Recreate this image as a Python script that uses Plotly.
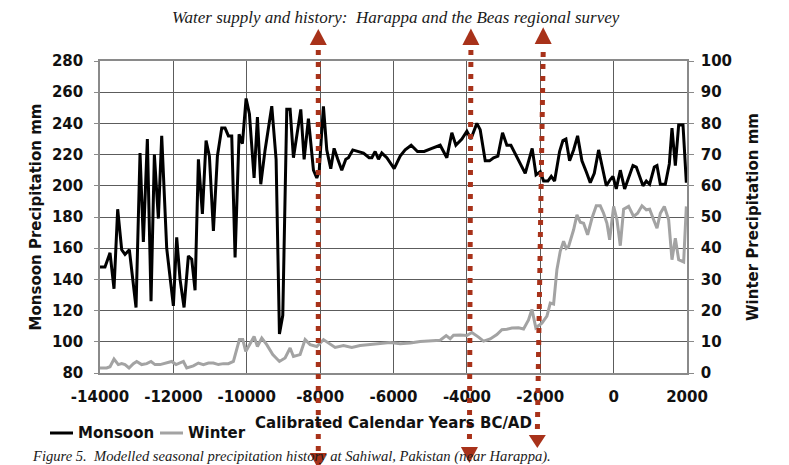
import plotly.graph_objects as go

# ---------------- data ----------------
monsoon_years = [
    -14000, -13864, -13727, -13618, -13518, -13409, -13318, -13200, -13018, -12909,
    -12818, -12709, -12609, -12518, -12409, -12318, -12182, -12000, -11909, -11818,
    -11709, -11591, -11500, -11409, -11318, -11209, -11109, -11018, -10909, -10800,
    -10682, -10591, -10500, -10409, -10318, -10209, -10118, -10018, -9927, -9800,
    -9709, -9618, -9500, -9318, -9200, -9109, -9018, -8909, -8818, -8727,
    -8527, -8436, -8319, -8182, -8091, -8027, -7910, -7819, -7710, -7619,
    -7519, -7410, -7300, -7228, -7110, -6955, -6819, -6664, -6590, -6500,
    -6410, -6319, -6182, -5982, -5818, -5682, -5518, -5346, -5164, -4955,
    -4728, -4546, -4410, -4300, -4137, -4000, -3890, -3728, -3637, -3500,
    -3383, -3273, -3155, -3028, -2910, -2800, -2655, -2527, -2410, -2220,
    -2115, -2000, -1909, -1791, -1700, -1609, -1473, -1382, -1300, -1200,
    -1091, -982, -864, -746, -636, -527, -409, -318, -200, -91,
    -18, 72, 182, 300, 409, 527, 618, 709, 800, 891,
    982, 1109, 1182, 1273, 1409, 1518, 1591, 1682, 1773, 1891,
    1982,
]
monsoon_mm = [
    148, 148, 157, 134, 185, 159, 156, 159, 122, 221,
    164, 230, 126, 220, 179, 232, 160, 123, 167, 140,
    122, 155, 153, 133, 217, 182, 229, 219, 171, 219,
    237, 237, 232, 232, 154, 233, 227, 256, 246, 205,
    244, 201, 223, 251, 217, 105, 117, 249, 249, 218,
    249, 217, 243, 210, 205, 209, 251, 223, 211, 224,
    217, 210, 217, 218, 223, 222, 221, 218, 218, 222,
    217, 221, 218, 211, 219, 223, 226, 222, 222, 224,
    226, 218, 234, 226, 230, 235, 230, 240, 236, 216,
    216, 218, 219, 234, 226, 226, 219, 213, 208, 224,
    207, 209, 203, 203, 206, 203, 222, 229, 230, 216,
    223, 232, 216, 209, 202, 208, 223, 213, 200, 204,
    206, 198, 210, 198, 205, 213, 212, 206, 200, 203,
    201, 212, 213, 201, 201, 214, 237, 213, 239, 239,
    202,
]

winter_years = [
    -14000, -13818, -13727, -13618, -13500, -13409, -13318, -13209, -13091, -13000,
    -12864, -12727, -12609, -12500, -12364, -12182, -12045, -11927, -11818, -11727,
    -11636, -11455, -11318, -11182, -11045, -10909, -10773, -10636, -10500, -10364,
    -10200, -10109, -10027, -9909, -9800, -9709, -9591, -9455, -9291, -9109,
    -8955, -8818, -8727, -8546, -8409, -8273, -8091, -7909, -7773, -7591,
    -7364, -7137, -6910, -6637, -6364, -6091, -5818, -5546, -5273, -5000,
    -4728, -4564, -4455, -4364, -4182, -4000, -3864, -3682, -3546, -3364,
    -3182, -3046, -2910, -2773, -2591, -2455, -2320, -2227, -2120, -1955,
    -1818, -1727, -1636, -1546, -1455, -1364, -1291, -1227, -1091, -1000,
    -909, -818, -709, -591, -473, -364, -273, -182, -109, 0,
    91, 182, 273, 409, 545, 654, 773, 891, 982, 1091,
    1182, 1273, 1382, 1500, 1591, 1682, 1773, 1909, 1982,
]
winter_mm = [
    1.6, 1.6, 2.0, 4.5, 2.7, 3.0, 2.7, 1.6, 3.0, 3.7,
    2.7, 3.0, 3.7, 2.7, 2.7, 3.2, 3.7, 2.7, 3.2, 3.7,
    1.6, 2.3, 3.2, 2.7, 3.2, 3.2, 2.7, 3.0, 3.0, 3.7,
    10.7, 10.7, 6.9, 9.6, 11.7, 8.5, 11.2, 9.1, 5.9, 3.7,
    4.8, 8.0, 5.3, 5.9, 10.7, 9.1, 8.5, 10.7, 9.6, 8.2,
    8.8, 8.2, 8.8, 9.1, 9.4, 9.8, 9.4, 9.6, 10.1, 10.3,
    10.5, 12.0, 11.0, 12.1, 12.2, 12.0, 13.0, 11.5, 10.2, 10.9,
    12.3, 13.9, 14.0, 14.4, 14.5, 14.1, 17.0, 20.4, 14.5, 16.0,
    18.2, 22.4, 22.1, 33.1, 39.0, 42.2, 40.0, 40.6, 45.9, 50.7,
    48.3, 48.0, 44.3, 49.6, 53.6, 53.6, 51.2, 48.0, 42.7, 53.4,
    49.1, 40.8, 52.5, 53.4, 50.2, 51.2, 53.6, 52.3, 52.5, 49.1,
    46.4, 51.2, 53.4, 49.1, 36.3, 43.2, 36.3, 35.6, 53.4,
]

x_ticks = [-14000, -12000, -10000, -8000, -6000, -4000, -2000, 0, 2000]
x_tick_labels = ["-14000", "-12000", "-10000", "-8000", "-6000", "-4000", "-2000", "0", "2000"]
left_ticks = [80, 100, 120, 140, 160, 180, 200, 220, 240, 260, 280]
right_ticks = [0, 10, 20, 30, 40, 50, 60, 70, 80, 90, 100]

series_names = ["Monsoon", "Winter"]
series_colors = ["#000000", "#a3a3a3"]

# marker arrows (years they point at: top end, bottom end)
arrow_top_years = [-8050, -3890, -1920]
arrow_bottom_years = [-8050, -3930, -2080]

title_text = "Water supply and history:  Harappa and the Beas regional survey"
caption_text = "Figure 5.  Modelled seasonal precipitation history at Sahiwal, Pakistan (near Harappa)."

# ---------------- figure ----------------
SANS = "DejaVu Sans"
SERIF = "Liberation Serif"
ARROW = "#a8321a"

fig = go.Figure()
fig.add_trace(go.Scatter(
    x=monsoon_years, y=monsoon_mm, mode="lines", name=series_names[0],
    line=dict(color=series_colors[0], width=3), yaxis="y",
))
fig.add_trace(go.Scatter(
    x=winter_years, y=winter_mm, mode="lines", name=series_names[1],
    line=dict(color=series_colors[1], width=3), yaxis="y2",
))

# page offset of the figure (browser body margin) and plot box in window px
OFF = 8
PL, PR, PT, PB = 100, 687, 61, 373
W, Hh = 789 - OFF, 465 - OFF


def px_(pix):
    return (pix - PL) / (PR - PL)


def py(pix):
    return (PB - pix) / (PB - PT)


HALF = 232  # half width of an arrow head in years (~8.5 px)
tops = [(29, 45, 50), (28.5, 45, 50), (27.3, 44, 52)]
bots = [(452, 453, 469), (446, 447, 463), (434, 435, 448)]
shapes = []
for xt, xb, (tt, tb, ts), (be, bb, btip) in zip(arrow_top_years, arrow_bottom_years, tops, bots):
    shapes.append(dict(type="line", xref="x", yref="paper", x0=xt, x1=xb,
                       y0=py(ts), y1=py(be),
                       line=dict(color=ARROW, width=5, dash="5px,7px")))
    shapes.append(dict(type="path", xref="x", yref="paper",
                       path=f"M{xt - HALF},{py(tb)} L{xt + HALF},{py(tb)} L{xt},{py(tt)} Z",
                       fillcolor=ARROW, line=dict(width=0)))
    shapes.append(dict(type="path", xref="x", yref="paper",
                       path=f"M{xb - HALF},{py(bb)} L{xb + HALF},{py(bb)} L{xb},{py(btip)} Z",
                       fillcolor=ARROW, line=dict(width=0)))

axis_font = dict(family=SANS, size=15, color="#111111", weight="bold")

# hand-drawn legend (line sample + label) below the axis
legend_pos = [(50, 73, 76), (160, 183, 186)]
annotations = []
for name, col, (l0, l1, tx) in zip(series_names, series_colors, legend_pos):
    shapes.append(dict(type="line", xref="paper", yref="paper",
                       x0=px_(l0), x1=px_(l1), y0=py(433), y1=py(433),
                       line=dict(color=col, width=3)))
    annotations.append(dict(text=name, xref="paper", yref="paper",
                            x=px_(tx), y=py(433), xanchor="left", yanchor="middle",
                            showarrow=False, font=axis_font))

annotations += [
    dict(text=f"<i>{title_text}</i>", xref="paper", yref="paper",
         x=px_(396), y=py(17), xanchor="center", yanchor="middle",
         showarrow=False, font=dict(family=SERIF, size=17, color="#1a1a1a")),
    dict(text=f"<i>{caption_text}</i>", xref="paper", yref="paper",
         x=px_(30), y=py(456), xanchor="left", yanchor="middle",
         showarrow=False, font=dict(family=SERIF, size=14.6, color="#1a1a1a")),
]

fig.update_layout(
    width=W, height=Hh,
    margin=dict(l=PL - OFF, r=W - (PR - OFF), t=PT - OFF, b=Hh - (PB - OFF), pad=0),
    paper_bgcolor="white", plot_bgcolor="white",
    showlegend=False,
    xaxis=dict(
        range=[-14000, 2000], tickvals=x_ticks, ticktext=x_tick_labels,
        showgrid=True, gridcolor="#5c5c5c", gridwidth=1.3,
        showline=True, linecolor="#8a8a8a", linewidth=1.5, mirror=True,
        ticks="", zeroline=False, tickfont=axis_font, ticklabelstandoff=9,
        title=dict(text="Calibrated Calendar Years BC/AD", font=axis_font, standoff=13),
    ),
    yaxis=dict(
        range=[80, 280], tickvals=left_ticks,
        showgrid=True, gridcolor="#5c5c5c", gridwidth=1.3,
        showline=True, linecolor="#8a8a8a", linewidth=1.5,
        ticks="outside", ticklen=4, tickcolor="#8a8a8a", tickwidth=1.3,
        zeroline=False, tickfont=axis_font, ticklabelstandoff=8,
        title=dict(text="Monsoon Precipitation mm", font=axis_font, standoff=7),
    ),
    yaxis2=dict(
        range=[0, 100], tickvals=right_ticks, overlaying="y", side="right",
        showgrid=False, zeroline=False,
        showline=True, linecolor="#8a8a8a", linewidth=1.5,
        ticks="outside", ticklen=5, tickcolor="#8a8a8a", tickwidth=1.3,
        tickfont=axis_font, ticklabelstandoff=4,
        title=dict(text="Winter Precipitation mm", font=axis_font, standoff=16),
    ),
    shapes=shapes,
    annotations=annotations,
)

fig.write_html("out.html")
